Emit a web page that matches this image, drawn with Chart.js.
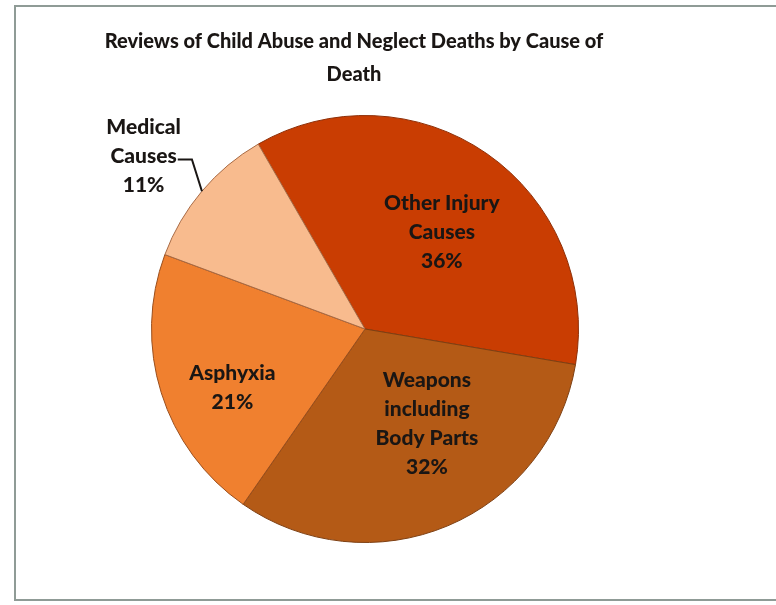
<!DOCTYPE html>
<html>
<head>
<meta charset="utf-8">
<script src="https://cdn.jsdelivr.net/npm/chart.js@4/dist/chart.umd.min.js"></script>
<style>
  html, body { margin: 0; padding: 0; background: #fff; overflow: hidden; }
  #frame {
    position: absolute; left: 14px; top: 5px; width: 800px; height: 596px;
    border: 2px solid #8f9b96; box-sizing: border-box;
  }
  #causeChart { position: absolute; left: 0; top: 0; }
</style>
</head>
<body>
<div id="frame"></div>
<canvas id="causeChart" width="776" height="605"></canvas>
<script>
// Data
const causes = ['Other Injury Causes', 'Weapons including Body Parts', 'Asphyxia', 'Medical Causes'];
const percents = [36, 32, 21, 11];
// how each label is broken over lines (as in the original)
const labelLines = [
    ['Other Injury', 'Causes'],
    ['Weapons', 'including', 'Body Parts'],
    ['Asphyxia'],
    ['Medical', 'Causes']
];

const sliceColors = ['#c93d02', '#b45a16', '#f0802f', '#f8bb8e'];
const sliceBorders = ['#8e2e06', '#7d3f12', '#9a4e1c', '#a86a44'];

// label block centres, as fractions of the radius from the pie centre
const labelOffsets = [[0.36, -0.455], [0.29, 0.446], [-0.621, 0.276], [-1.037, -0.808]];

const titleLines = ['Reviews of Child Abuse and Neglect Deaths by Cause of', 'Death'];
const FONT = 'Lato, "Open Sans", sans-serif';

/**
 * Title and data labels, drawn after the slices
 */
const labelPlugin = {
    id: 'sliceLabels',
    afterDraw(chart) {
        const ctx = chart.ctx;
        ctx.save();
        ctx.fillStyle = '#1a1614';
        ctx.textAlign = 'center';
        ctx.textBaseline = 'middle';

        // title
        ctx.font = '900 20px ' + FONT;
        ctx.fillText(titleLines[0], 354, 42);
        ctx.fillText(titleLines[1], 354, 75);

        const meta = chart.getDatasetMeta(0);
        const lineH = 29;
        ctx.font = '900 21px ' + FONT;
        meta.data.forEach((arc, i) => {
            const r = arc.outerRadius;
            const lines = labelLines[i].concat([percents[i] + '%']);
            const cx = arc.x + labelOffsets[i][0] * r;
            const cy = arc.y + labelOffsets[i][1] * r;
            const top = cy - (lines.length - 1) * lineH / 2;
            lines.forEach((t, k) => ctx.fillText(t, cx, top + k * lineH));

            // leader line for the label sitting outside the pie
            if (Math.hypot(labelOffsets[i][0], labelOffsets[i][1]) > 1) {
                const mid = (arc.startAngle + arc.endAngle) / 2;
                const ex = arc.x + Math.cos(mid) * r;
                const ey = arc.y + Math.sin(mid) * r;
                const ly = top + lineH + 3;
                const lx = cx + ctx.measureText(lines[1]).width / 2 + 1;
                ctx.strokeStyle = '#1a1614';
                ctx.lineWidth = 2;
                ctx.beginPath();
                ctx.moveTo(lx, ly);
                ctx.lineTo(ex - 10, ly);
                ctx.lineTo(ex, ey);
                ctx.stroke();
            }
        });
        ctx.restore();
    }
};

new Chart(document.getElementById('causeChart'), {
    type: 'pie',
    data: {
        labels: causes,
        datasets: [{
            data: percents,
            backgroundColor: sliceColors,
            borderColor: sliceBorders,
            borderWidth: 1
        }]
    },
    options: {
        responsive: false,
        animation: false,
        rotation: -30,
        layout: { padding: { left: 151, right: 197, top: 115, bottom: 62 } },
        plugins: {
            legend: { display: false },
            title: { display: false },
            tooltip: { enabled: false }
        }
    },
    plugins: [labelPlugin]
});
</script>
</body>
</html>
